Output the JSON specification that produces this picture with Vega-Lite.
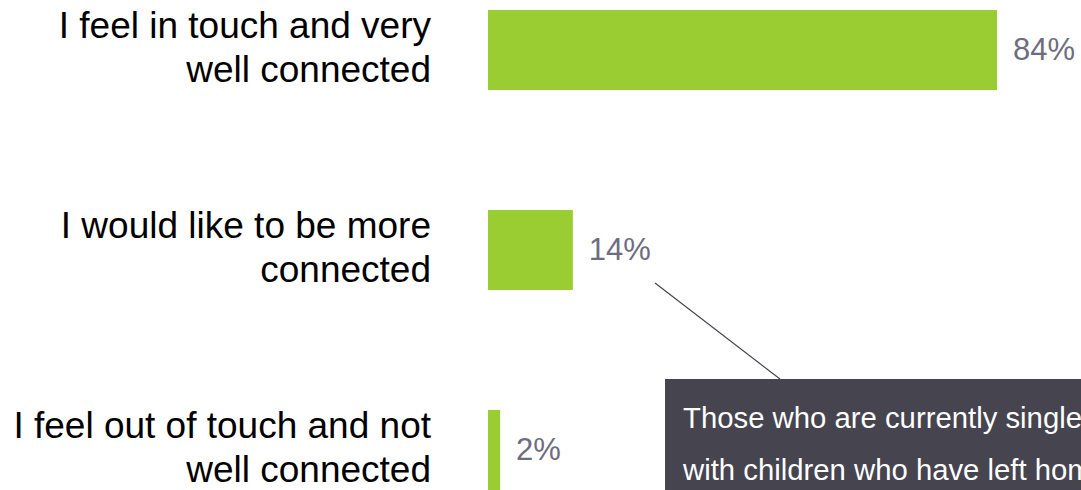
{
  "$schema": "https://vega.github.io/schema/vega-lite/v6.json",
  "width": 593,
  "height": 490,
  "autosize": {"type": "none"},
  "padding": {"left": 488, "top": 0, "right": 0, "bottom": 0},
  "background": "white",
  "config": {"view": {"stroke": null}, "font": "Liberation Sans"},
  "data": {
    "values": [
      {"label": "I feel in touch and very\nwell connected", "value": 0.84},
      {"label": "I would like to be more\nconnected", "value": 0.14},
      {"label": "I feel out of touch and not\nwell connected", "value": 0.02}
    ]
  },
  "encoding": {
    "y": {
      "field": "label",
      "type": "nominal",
      "sort": null,
      "scale": {"range": [-50, 550], "paddingInner": 0, "paddingOuter": 0},
      "axis": null
    }
  },
  "layer": [
    {
      "mark": {"type": "bar", "height": {"band": 0.4}, "color": "#9ACD32"},
      "encoding": {
        "x": {"field": "value", "type": "quantitative", "scale": {"domain": [0, 0.9785], "nice": false, "zero": true}, "axis": null}
      }
    },
    {
      "mark": {"type": "text", "align": "left", "baseline": "middle", "dx": 16, "dy": 1, "fontSize": 31, "color": "#6E6D80"},
      "encoding": {
        "x": {"field": "value", "type": "quantitative"},
        "text": {"field": "value", "type": "quantitative", "format": ".0%"}
      }
    },
    {
      "mark": {"type": "text", "align": "right", "baseline": "middle", "dx": -57, "dy": -23, "fontSize": 37, "lineBreak": "\n", "lineHeight": 44, "color": "#000000"},
      "encoding": {
        "x": {"datum": 0, "type": "quantitative"},
        "text": {"field": "label", "type": "nominal"}
      }
    },
    {
      "data": {"values": [{"note": "Those who are currently single\nwith children who have left home"}]},
      "layer": [
        {
          "mark": {"type": "rect", "color": "#45444F", "yOffset": 29},
          "encoding": {
            "x": {"datum": 0.2921, "type": "quantitative"},
            "x2": {"datum": 1.2},
            "y": {"datum": "I feel out of touch and not\nwell connected", "type": "nominal"}
          }
        },
        {
          "mark": {"type": "rule", "color": "#45444F", "strokeWidth": 1.2, "yOffset": 33, "y2Offset": -71},
          "encoding": {
            "x": {"datum": 0.2756, "type": "quantitative"},
            "x2": {"datum": 0.4818},
            "y": {"datum": "I would like to be more\nconnected", "type": "nominal"},
            "y2": {"datum": "I feel out of touch and not\nwell connected"}
          }
        },
        {
          "mark": {"type": "text", "align": "left", "baseline": "middle", "dy": -31, "fontSize": 29.3, "lineBreak": "\n", "lineHeight": 52, "color": "#FFFFFF"},
          "encoding": {
            "x": {"datum": 0.3218, "type": "quantitative"},
            "y": {"datum": "I feel out of touch and not\nwell connected", "type": "nominal"},
            "text": {"field": "note", "type": "nominal"}
          }
        }
      ]
    }
  ]
}
